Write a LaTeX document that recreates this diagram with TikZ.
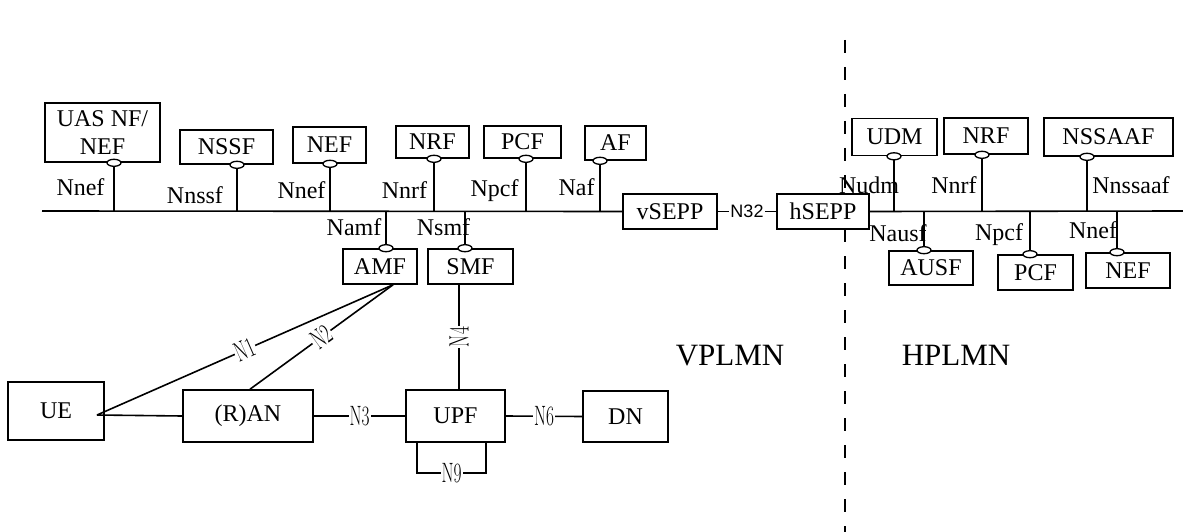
\documentclass[tikz,border=0pt]{standalone}
\usepackage{fontspec}
\setmainfont{Liberation Serif}
\newfontfamily\arialfont{Liberation Sans}
\newcommand\nlab[1]{\scalebox{0.62}[1]{\fontfamily{lmr}\fontsize{28}{28}\selectfont #1}}
\newcommand\ifc[1]{\draw[line width=1.3pt, fill=white] (#1) ellipse [x radius=7, y radius=3.5];}
\begin{document}
\begin{tikzpicture}[x=1pt,y=-1pt,
 box/.style={draw, fill=white, line width=1.6pt, inner sep=0pt, font=\fontsize{24}{28}\selectfont, align=center},
 lab/.style={font=\fontsize{24}{24}\selectfont, inner sep=0pt, text height=16pt, text depth=0pt},
 ln/.style={line width=1.6pt},
 nl/.style={fill=white, inner sep=1pt},
 big/.style={font=\fontsize{31}{31}\selectfont, inner sep=0pt, text height=20pt, text depth=0pt}]
\useasboundingbox (0,0) rectangle (1183,532);

% divider
\coordinate (dtop) at (845,40);
\coordinate (dbot) at (845,532);
\draw[line width=1.8pt, dash pattern=on 13pt off 14pt] (dtop) -- (dbot);

% boxes VPLMN
\node[box,minimum width=115pt,minimum height=59pt] (uas) at (102.5,132.5) {UAS NF/\\NEF};
\node[box,minimum width=93pt,minimum height=34pt] (nssf) at (226.5,147) {NSSF};
\node[box,minimum width=73pt,minimum height=36pt] (nefa) at (329.5,145) {NEF};
\node[box,minimum width=73pt,minimum height=32pt] (nrfa) at (432.5,142) {NRF};
\node[box,minimum width=77pt,minimum height=32pt] (pcfa) at (522.5,142) {PCF};
\node[box,minimum width=61pt,minimum height=34pt] (af) at (615.5,143) {AF};
\node[box,minimum width=94pt,minimum height=35pt] (vsepp) at (670,211.5) {vSEPP};
\node[box,minimum width=92pt,minimum height=35pt] (hsepp) at (823,211.5) {hSEPP};
\node[box,minimum width=74pt,minimum height=35pt] (amf) at (380,266.5) {AMF};
\node[box,minimum width=85pt,minimum height=35pt] (smf) at (470.5,266.5) {SMF};
\node[box,minimum width=96pt,minimum height=58pt] (ue) at (56,411) {UE};
\node[box,minimum width=130pt,minimum height=52pt] (ran) at (248,416) {(R)AN};
\node[box,minimum width=99pt,minimum height=52pt] (upf) at (455.5,416) {UPF};
\node[box,minimum width=85pt,minimum height=51pt] (dn) at (625.5,416.5) {DN};
% boxes HPLMN
\node[box,minimum width=85pt,minimum height=37pt] (udm) at (894.5,137) {UDM};
\node[box,minimum width=84pt,minimum height=36pt] (nrfb) at (986,136) {NRF};
\node[box,minimum width=129pt,minimum height=38pt] (nssaaf) at (1108.5,137) {NSSAAF};
\node[box,minimum width=84pt,minimum height=34pt] (ausf) at (931,268) {AUSF};
\node[box,minimum width=75pt,minimum height=35pt] (pcfb) at (1035.5,272.5) {PCF};
\node[box,minimum width=84pt,minimum height=35pt] (nefb) at (1128,270.5) {NEF};

% bus coordinates
\coordinate (busL) at (42,211);
\coordinate (busR) at (1183,211);
\coordinate (b1) at (114,211);
\coordinate (b2) at (237,211);
\coordinate (b3) at (330,211);
\coordinate (b4) at (434,211);
\coordinate (b5) at (526,211);
\coordinate (b6) at (600,211);
\coordinate (b7) at (386,211);
\coordinate (b8) at (465,211);
\coordinate (h1) at (894,211);
\coordinate (h2) at (982,211);
\coordinate (h3) at (1087,211);
\coordinate (h4) at (924,211);
\coordinate (h5) at (1030,211);
\coordinate (h6) at (1117,211);

\draw[ln] (busL) -- (vsepp.west);
\draw[ln] (hsepp.east) -- (busR);
\draw[ln] (vsepp.east) -- node[nl,font=\arialfont\fontsize{18}{18}\selectfont]{N32} (hsepp.west);

\draw[ln] (uas.south -| b1) -- (b1);
\draw[ln] (nssf.south -| b2) -- (b2);
\draw[ln] (nefa.south -| b3) -- (b3);
\draw[ln] (nrfa.south -| b4) -- (b4);
\draw[ln] (pcfa.south -| b5) -- (b5);
\draw[ln] (af.south -| b6) -- (b6);
\draw[ln] (amf.north -| b7) -- (b7);
\draw[ln] (smf.north -| b8) -- (b8);
\draw[ln] (udm.south -| h1) -- (h1);
\draw[ln] (nrfb.south -| h2) -- (h2);
\draw[ln] (nssaaf.south -| h3) -- (h3);
\draw[ln] (ausf.north -| h4) -- (h4);
\draw[ln] (pcfb.north -| h5) -- (h5);
\draw[ln] (nefb.north -| h6) -- (h6);

\ifc{uas.south -| b1}
\ifc{nssf.south -| b2}
\ifc{nefa.south -| b3}
\ifc{nrfa.south -| b4}
\ifc{pcfa.south -| b5}
\ifc{af.south -| b6}
\ifc{amf.north -| b7}
\ifc{smf.north -| b8}
\ifc{udm.south -| h1}
\ifc{nrfb.south -| h2}
\ifc{nssaaf.south -| h3}
\ifc{ausf.north -| h4}
\ifc{pcfb.north -| h5}
\ifc{nefb.north -| h6}

% interface labels
\node[lab] (l1) at (80.5,187) {Nnef};
\node[lab] (l2) at (195,195) {Nnssf};
\node[lab] (l3) at (301.5,190) {Nnef};
\node[lab] (l4) at (404.5,190) {Nnrf};
\node[lab] (l5) at (494.5,188) {Npcf};
\node[lab] (l6) at (576.5,187) {Naf};
\node[lab] (l7) at (354,227) {Namf};
\node[lab] (l8) at (443.5,227) {Nsmf};
\node[lab] (l9) at (869,185) {Nudm};
\node[lab] (l10) at (954,185) {Nnrf};
\node[lab] (l11) at (1131,185) {Nnssaaf};
\node[lab] (l12) at (898,233) {Nausf};
\node[lab] (l13) at (999,232) {Npcf};
\node[lab] (l14) at (1093,230) {Nnef};

% access side
\coordinate (uej) at (97,415);
\coordinate (amfb) at (393,284);
\coordinate (ranb) at (250,390);
\coordinate (smfx) at (459,300);
\draw[ln] (uej) -- (ran.west);
\draw[ln] (uej) -- node[nl,sloped]{\nlab{N1}} (amf.south -| amfb);
\draw[ln] (ran.north -| ranb) -- node[nl,sloped]{\nlab{N2}} (amf.south -| amfb);
\draw[ln] (smf.south -| smfx) -- node[nl,rotate=90]{\nlab{N4}} (upf.north -| smfx);
\draw[ln] (ran.east) -- node[nl]{\nlab{N3}} (upf.west);
\draw[ln] (upf.east) -- node[nl]{\nlab{N6}} (dn.west);
\coordinate (n9a) at (417,473);
\coordinate (n9b) at (486,473);
\draw[ln] (upf.south -| n9a) -- (n9a) -- node[nl]{\nlab{N9}} (n9b) -- (upf.south -| n9b);

\node[big] (vp) at (730,355) {VPLMN};
\node[big] (hp) at (956,355) {HPLMN};
\end{tikzpicture}
\end{document}
